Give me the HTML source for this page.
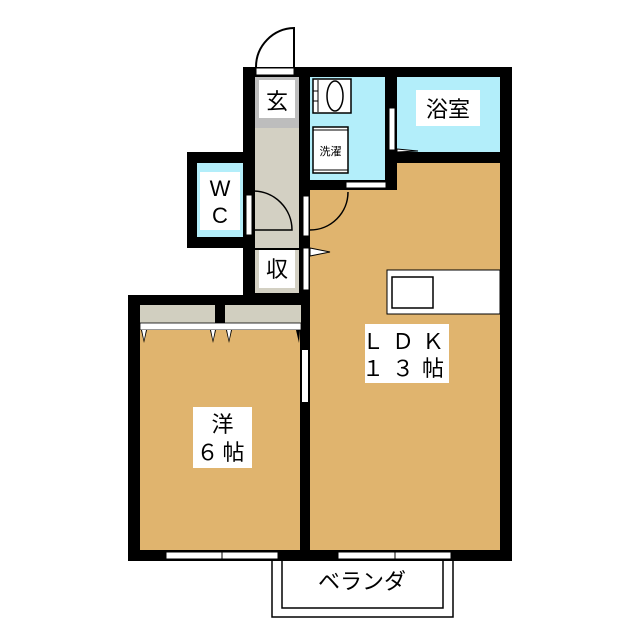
<!DOCTYPE html>
<html><head><meta charset="utf-8"><style>body{margin:0;background:#fff}svg{display:block}text{font-family:"Liberation Sans","Noto Sans CJK JP",sans-serif}</style></head>
<body>
<svg width="640" height="640" viewBox="0 0 640 640" xmlns="http://www.w3.org/2000/svg">
<rect width="640" height="640" fill="#fff"/>
<path d="M294 67 L294 28 A39 39 0 0 0 256 67" fill="none" stroke="#000" stroke-width="2"/>
<rect x="243" y="67" width="269" height="96" fill="#000"/>
<rect x="243" y="67" width="69" height="238" fill="#000"/>
<rect x="187" y="152" width="70" height="96" fill="#000"/>
<rect x="299" y="150" width="213" height="411" fill="#000"/>
<rect x="128" y="295" width="184" height="266" fill="#000"/>
<rect x="255" y="77" width="44" height="51" fill="#bdbdbd"/>
<rect x="255" y="128" width="44" height="120" fill="#d3d0c3"/>
<rect x="255" y="250" width="44" height="43" fill="#d3d0c3"/>
<rect x="256" y="68" width="38" height="7" fill="#fff" stroke="#000" stroke-width="1"/>
<!-- LDK (L-shape) -->
<rect x="310" y="190" width="190" height="360" fill="#e0b46e"/>
<rect x="397" y="163" width="103" height="30" fill="#e0b46e"/>
<!-- washroom -->
<rect x="310" y="77" width="75" height="103" fill="#b3eefa"/>
<rect x="313" y="79" width="38" height="34" fill="#fff" stroke="#000" stroke-width="1.5"/>
<line x1="318" y1="80" x2="318" y2="112" stroke="#000" stroke-width="1"/>
<line x1="313" y1="91" x2="318" y2="91" stroke="#000" stroke-width="1"/>
<line x1="313" y1="101" x2="318" y2="101" stroke="#000" stroke-width="1"/>
<ellipse cx="335" cy="96" rx="8" ry="15" fill="#fff" stroke="#000" stroke-width="1.5"/>
<rect x="313" y="127" width="35" height="46" fill="#fff" stroke="#000" stroke-width="1.5"/>
<line x1="313" y1="130" x2="348" y2="130" stroke="#000" stroke-width="1"/>
<line x1="313" y1="170" x2="348" y2="170" stroke="#000" stroke-width="1"/>
<text x="330.5" y="155" font-size="11" text-anchor="middle">洗濯</text>
<rect x="346" y="182" width="40" height="6" fill="#fff" stroke="#000" stroke-width="1"/>
<!-- bath -->
<rect x="397" y="77" width="103" height="75" fill="#b3eefa"/>
<rect x="389" y="108" width="6" height="42" fill="#fff" stroke="#000" stroke-width="1"/>
<path d="M397 149 L418 151 L397 152Z" fill="#fff" stroke="#000" stroke-width="1"/>
<rect x="416" y="90" width="64" height="36" fill="#fff"/>
<text x="448" y="117" font-size="22" text-anchor="middle">浴室</text>
<!-- WC -->
<rect x="197" y="163" width="46" height="74" fill="#b3eefa"/>
<rect x="200" y="172" width="40" height="58" fill="#fff"/>
<text x="220" y="196" font-size="22" text-anchor="middle">W</text>
<text x="220" y="223" font-size="22" text-anchor="middle">C</text>
<rect x="246" y="195" width="6" height="40" fill="#fff" stroke="#000" stroke-width="1"/>
<path d="M253 230 L292 230 A39 39 0 0 0 253 191" fill="none" stroke="#000" stroke-width="1.5"/>
<rect x="259" y="80" width="36" height="38" fill="#fff"/>
<text x="277" y="109" font-size="22" text-anchor="middle">玄</text>
<rect x="259" y="250" width="36" height="38" fill="#fff"/>
<text x="277" y="277" font-size="22" text-anchor="middle">収</text>
<rect x="303" y="196" width="6" height="40" fill="#fff" stroke="#000" stroke-width="1"/>
<path d="M310 230 A38 38 0 0 0 348 192" fill="none" stroke="#000" stroke-width="1.5"/>
<rect x="303" y="248" width="6" height="42" fill="#fff" stroke="#000" stroke-width="1"/>
<path d="M310 248 L330 252 L310 256Z" fill="#fff" stroke="#000" stroke-width="1"/>
<rect x="387" y="270" width="113" height="44" fill="#fff" stroke="#000" stroke-width="1"/>
<rect x="392" y="277" width="41" height="31" fill="#fff" stroke="#000" stroke-width="1.5"/>
<rect x="365" y="324" width="84" height="59" fill="#fff"/>
<text x="407" y="349" font-size="22" text-anchor="middle" letter-spacing="8">ＬＤＫ</text>
<text x="407" y="376" font-size="22" text-anchor="middle" letter-spacing="8">１３帖</text>
<rect x="140" y="305" width="75" height="18" fill="#d1cfc0"/>
<rect x="225" y="305" width="76" height="18" fill="#d1cfc0"/>
<rect x="140" y="323" width="161" height="7" fill="#fff" stroke="#000" stroke-width="0.8"/>
<rect x="140" y="330" width="160" height="220" fill="#e0b46e"/>
<path d="M141 330 L144 343 L147 330Z M210 330 L213 343 L216 330Z M226 330 L229 343 L232 330Z M296 330 L299 343 L300 330Z" fill="#000"/>
<path d="M142 330 L144 340 L146 330Z M211 330 L213 340 L215 330Z M227 330 L229 340 L231 330Z" fill="#fff"/>
<rect x="302" y="350" width="6" height="52" fill="#fff"/>
<rect x="193" y="407" width="59" height="61" fill="#fff"/>
<text x="222.5" y="432" font-size="22" text-anchor="middle">洋</text>
<text x="222.5" y="460" font-size="22" text-anchor="middle" letter-spacing="4">６帖</text>
<rect x="166" y="552" width="112" height="7" fill="#fff" stroke="#000" stroke-width="1"/>
<line x1="222" y1="550" x2="222" y2="561" stroke="#000" stroke-width="1"/>
<rect x="338" y="552" width="113" height="7" fill="#fff" stroke="#000" stroke-width="1"/>
<line x1="395" y1="550" x2="395" y2="561" stroke="#000" stroke-width="1"/>
<path d="M272 561 L272 617 L453 617 L453 561" fill="none" stroke="#000" stroke-width="1.5"/>
<path d="M282 561 L282 608 L443 608 L443 561" fill="none" stroke="#000" stroke-width="1.5"/>
<text x="362" y="589" font-size="22" text-anchor="middle">ベランダ</text>
</svg>
</body></html>
